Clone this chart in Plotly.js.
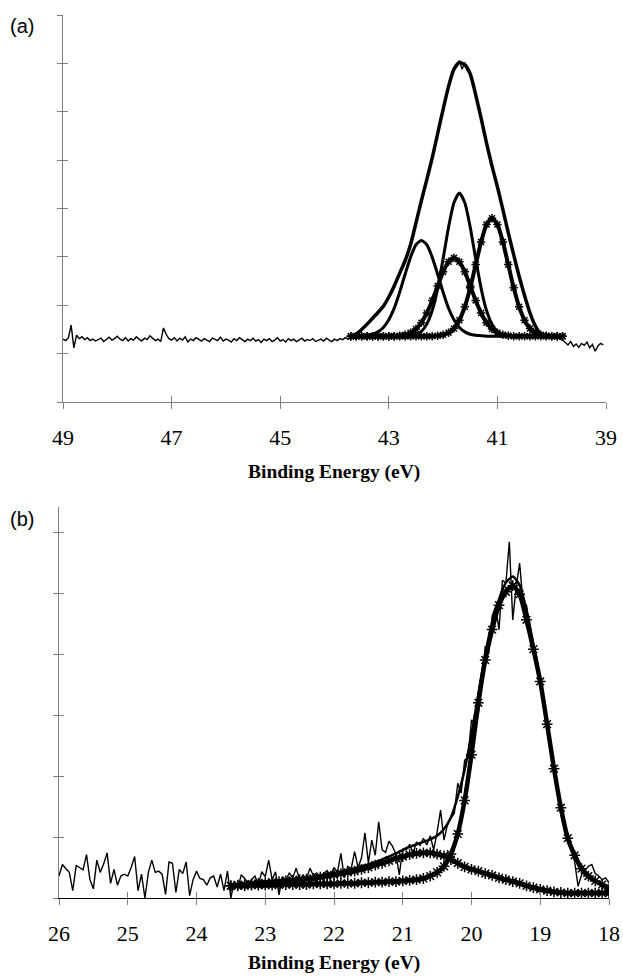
<!DOCTYPE html>
<html>
<head>
<meta charset="utf-8">
<script src="https://cdn.plot.ly/plotly-3.0.1.min.js"></script>
<style>html,body{margin:0;padding:0;background:#fff;}#chart{width:623px;height:979px;}</style>
</head>
<body>
<div id="chart"></div>
<script>
// ---------- Panel (a) ----------
const panelALabel = '(a)';
const xTitle = 'Binding Energy (eV)';
const rawAStart = 49.0, rawAStep = -0.05;
const rawA = [
1.30,1.27,1.33,1.59,1.12,1.38,1.31,1.35,1.29,1.33,
1.27,1.30,1.26,1.29,1.32,1.25,1.29,1.34,1.28,1.31,
1.36,1.30,1.27,1.33,1.26,1.31,1.28,1.35,1.30,1.26,
1.32,1.29,1.37,1.31,1.27,1.30,1.25,1.53,1.40,1.31,
1.28,1.33,1.26,1.32,1.28,1.35,1.24,1.30,1.27,1.33,
1.29,1.26,1.31,1.28,1.25,1.32,1.29,1.27,1.34,1.26,
1.30,1.28,1.24,1.31,1.27,1.33,1.29,1.25,1.30,1.27,
1.32,1.26,1.29,1.23,1.30,1.27,1.31,1.25,1.28,1.33,
1.26,1.29,1.24,1.31,1.27,1.30,1.25,1.28,1.32,1.26,
1.29,1.27,1.31,1.25,1.28,1.30,1.26,1.32,1.28,1.25,
1.30,1.27,1.31,1.29,1.33,1.30,
1.33,1.38,1.42,1.45,1.52,1.56,1.62,1.65,1.74,1.79,
1.86,1.91,1.99,2.05,2.18,2.28,2.41,2.50,2.68,2.78,
2.93,3.08,3.27,3.42,3.72,3.93,4.18,4.37,4.62,4.83,
5.07,5.24,5.57,5.80,6.07,6.25,6.54,6.70,6.90,6.93,
7.06,6.88,7.02,6.84,6.80,6.58,6.37,6.10,5.89,5.60,
5.37,5.08,4.90,4.65,4.47,4.20,4.00,3.72,3.52,3.25,
3.06,2.80,2.62,2.38,2.22,1.99,1.86,1.68,1.58,1.46,
1.41,1.36,1.38,1.33,1.36,1.32,1.35,1.30,1.28,
1.22,1.18,1.25,1.15,1.20,1.13,1.21,1.17,1.24,1.12,1.19,1.05,1.16,1.21,1.18
];
const fitAStart = 43.7, fitAStep = -0.1;
const envelopeA = [1.33,1.40,1.50,1.61,1.73,1.85,1.98,2.17,2.40,2.66,
2.92,3.25,3.70,4.16,4.60,5.05,5.55,6.05,6.52,6.88,
7.02,6.97,6.78,6.35,5.87,5.35,4.88,4.45,3.98,3.50,
3.04,2.60,2.20,1.84,1.57,1.40,1.36,1.36,1.36,1.36];
const peakA1 = [1.36,1.36,1.37,1.38,1.40,1.45,1.54,1.70,1.94,2.27,
2.64,2.99,3.25,3.34,3.25,2.99,2.64,2.27,1.94,1.70,
1.54,1.45,1.40,1.38,1.37,1.36,1.36,1.36,1.36,1.36,
1.36,1.36,1.36,1.36,1.36,1.36,1.36,1.36,1.36,1.36];
const peakA2 = [1.36,1.36,1.36,1.36,1.36,1.36,1.36,1.36,1.36,1.36,
1.36,1.37,1.40,1.46,1.61,1.89,2.35,2.96,3.61,4.12,
4.32,4.12,3.61,2.96,2.35,1.89,1.61,1.46,1.40,1.37,
1.36,1.36,1.36,1.36,1.36,1.36,1.36,1.36,1.36,1.36];
const peakA3 = [1.36,1.36,1.36,1.36,1.36,1.36,1.36,1.36,1.36,1.37,
1.39,1.43,1.51,1.64,1.84,2.10,2.40,2.69,2.90,2.98,
2.90,2.69,2.40,2.10,1.84,1.64,1.51,1.43,1.39,1.37,
1.36,1.36,1.36,1.36,1.36,1.36,1.36,1.36,1.36,1.36];
const peakA4 = [1.36,1.36,1.36,1.36,1.36,1.36,1.36,1.36,1.36,1.36,
1.36,1.36,1.36,1.36,1.36,1.36,1.37,1.39,1.43,1.52,
1.69,1.97,2.36,2.84,3.31,3.67,3.80,3.67,3.31,2.84,
2.36,1.97,1.69,1.52,1.43,1.39,1.37,1.36,1.36,1.36];
const xTicksA = [49,47,45,43,41,39];

// ---------- Panel (b) ----------
const panelBLabel = '(b)';
const rawBStart = 26.0, rawBStep = -0.05;
const rawB = [
0.36,0.55,0.48,0.42,0.12,0.53,0.50,0.46,0.71,0.30,
0.15,0.62,0.42,0.56,0.74,0.24,0.47,0.21,0.36,0.39,
0.36,0.50,0.68,0.12,0.39,0.00,0.42,0.62,0.42,0.44,
0.39,0.06,0.59,0.57,0.09,0.47,0.40,0.59,0.04,0.30,
0.44,0.32,0.30,0.21,0.33,0.36,0.18,0.39,0.12,0.44,
0.00,
0.28,0.15,0.38,0.32,0.24,0.30,0.36,0.22,0.43,0.35,
0.62,0.30,0.43,0.05,0.35,0.30,0.41,0.33,0.49,0.30,
0.38,0.31,0.49,0.37,0.41,0.33,0.40,0.45,0.36,0.50,
0.42,0.73,0.33,0.52,0.48,0.76,0.50,0.66,1.07,0.58,
0.95,0.70,1.25,0.79,0.75,0.93,0.85,0.72,0.38,0.80,
0.79,0.88,0.73,0.92,0.86,0.98,0.87,1.02,0.79,1.08,
1.44,0.95,1.20,1.30,1.39,1.88,1.72,2.26,2.30,2.92,
2.85,3.03,3.50,4.13,4.00,4.62,4.78,4.40,5.21,5.16,
5.84,4.56,5.10,5.49,4.83,4.80,4.40,4.16,3.95,3.60,
3.23,2.80,2.45,2.13,1.70,1.37,1.15,0.93,0.78,0.60,
0.19,0.38,0.45,0.52,0.55,0.40,0.36,0.30,0.33,0.25
];
const fitBStart = 23.5, fitBStep = -0.1;
const envelopeB = [0.22,0.23,0.24,0.25,0.26,0.27,0.28,0.29,0.30,0.31,
0.32,0.34,0.35,0.37,0.39,0.41,0.43,0.46,0.49,0.52,
0.55,0.59,0.63,0.68,0.73,0.79,0.84,0.88,0.92,0.96,
1.02,1.13,1.32,1.66,2.10,2.68,3.35,4.00,4.52,4.90,
5.17,5.27,5.13,4.72,4.16,3.55,2.85,2.10,1.45,1.00,
0.72,0.52,0.38,0.28,0.22,0.18];
const mainPeakB = [0.20,0.20,0.20,0.21,0.21,0.21,0.21,0.22,0.22,0.22,
0.22,0.22,0.23,0.23,0.23,0.23,0.24,0.24,0.24,0.25,
0.25,0.26,0.26,0.27,0.27,0.28,0.29,0.30,0.32,0.36,
0.42,0.52,0.72,1.05,1.60,2.35,3.20,3.90,4.40,4.80,
5.02,5.12,4.98,4.56,4.08,3.55,2.85,2.12,1.48,0.98,
0.70,0.48,0.36,0.28,0.22,0.15];
const broadPeakB = [0.20,0.21,0.22,0.23,0.24,0.25,0.26,0.27,0.28,0.29,
0.30,0.31,0.32,0.34,0.36,0.38,0.40,0.42,0.44,0.47,
0.50,0.54,0.57,0.61,0.65,0.68,0.71,0.73,0.74,0.74,
0.72,0.69,0.63,0.57,0.51,0.47,0.44,0.40,0.37,0.33,
0.30,0.27,0.24,0.20,0.17,0.14,0.12,0.10,0.09,0.08,
0.08,0.08,0.08,0.08,0.08,0.08];
const xTicksB = [26,25,24,23,22,21,20,19,18];

// ---------- styles ----------
const INK = '#000000';
const GRAY = '#808080';
const serif = 'Liberation Serif';
const sans = 'Liberation Sans';
const tickFont = {family:serif, size:22, color:INK};

function solid(x0, dx, y, w, xa, ya) {
  return {type:'scatter', mode:'lines', x0:x0, dx:dx, y:y, xaxis:xa, yaxis:ya,
    line:{color:INK, width:w, shape:'spline', smoothing:0.6}, hoverinfo:'skip'};
}
function starred(x0, dx, y, xa, ya, sz, lw) {
  return {type:'scatter', mode:'lines+markers', x0:x0, dx:dx, y:y, xaxis:xa, yaxis:ya,
    line:{color:INK, width:lw, shape:'spline', smoothing:0.6},
    marker:{symbol:'asterisk-open', size:sz, color:INK, line:{color:INK, width:1.5}}, hoverinfo:'skip'};
}
function raw(x0, dx, y, xa, ya) {
  return {type:'scatter', mode:'lines', x0:x0, dx:dx, y:y, xaxis:xa, yaxis:ya,
    line:{color:INK, width:1.4}, hoverinfo:'skip'};
}

const traces = [
  starred(fitAStart, fitAStep, peakA3, 'x', 'y', 7, 4),
  starred(fitAStart, fitAStep, peakA4, 'x', 'y', 7, 4),
  solid(fitAStart, fitAStep, peakA1, 3, 'x', 'y'),
  solid(fitAStart, fitAStep, peakA2, 3, 'x', 'y'),
  solid(fitAStart, fitAStep, envelopeA, 3.5, 'x', 'y'),
  raw(rawAStart, rawAStep, rawA, 'x3', 'y3'),
  starred(fitBStart, fitBStep, broadPeakB, 'x2', 'y2', 9, 4.5),
  starred(fitBStart, fitBStep, mainPeakB, 'x2', 'y2', 9, 4.5),
  solid(fitBStart, fitBStep, envelopeB, 2.5, 'x2', 'y2'),
  raw(rawBStart, rawBStep, rawB, 'x4', 'y4')
];

const W = 623, H = 979;
const domAx = [63/W, 606/W], domAy = [1-402/H, 1-15/H];
const domBx = [59/W, 609/W], domBy = [1-898/H, 1-507/H];

function xBase(dom, range, ticks, anchor, lineColor) {
  return {domain:dom, range:range, anchor:anchor, tickmode:'array', tickvals:ticks,
    ticktext:ticks.map(String), ticks:'outside', ticklen:6, tickwidth:1, tickcolor:GRAY,
    showline:true, linecolor:lineColor, linewidth:1, zeroline:false, showgrid:false,
    tickfont:tickFont, ticklabelstandoff:10, fixedrange:true};
}
function xOver(over, range, ticks, anchor) {
  return {overlaying:over, range:range, anchor:anchor, tickmode:'array', tickvals:ticks,
    ticks:'inside', ticklen:6, tickwidth:1, tickcolor:GRAY, showticklabels:false,
    tickfont:tickFont, showline:false, zeroline:false, showgrid:false, fixedrange:true};
}
function yBase(dom, range, anchor) {
  return {domain:dom, range:range, anchor:anchor, tickmode:'linear', tick0:0, dtick:1,
    ticks:'outside', ticklen:5, tickwidth:1, tickcolor:GRAY, showticklabels:false,
    showline:true, linecolor:GRAY, linewidth:1, zeroline:false, showgrid:false, fixedrange:true};
}
function yOver(over, range, anchor) {
  return {overlaying:over, range:range, anchor:anchor, tickmode:'linear', tick0:0, dtick:1,
    ticks:'inside', ticklen:5, tickwidth:1, tickcolor:GRAY, showticklabels:false,
    showline:false, zeroline:false, showgrid:false, fixedrange:true};
}

const layout = {
  width:W, height:H, margin:{l:0, r:0, t:0, b:0}, showlegend:false,
  font:{family:serif, size:22, color:INK},
  paper_bgcolor:'#ffffff', plot_bgcolor:'rgba(0,0,0,0)',
  xaxis: xBase(domAx, [49, 39], xTicksA, 'y', GRAY),
  yaxis: yBase(domAy, [0, 8], 'x'),
  xaxis3: xOver('x', [49, 39], xTicksA, 'y'),
  yaxis3: yOver('y', [0, 8], 'x'),
  xaxis2: xBase(domBx, [26, 18], xTicksB, 'y2', INK),
  yaxis2: yBase(domBy, [0, 6.41], 'x2'),
  xaxis4: xOver('x2', [26, 18], xTicksB, 'y2'),
  yaxis4: yOver('y2', [0, 6.41], 'x2'),
  annotations: [
    {text:panelALabel, xref:'paper', yref:'paper', x:8/W, y:1-26/H, xanchor:'left', yanchor:'middle',
      showarrow:false, font:{family:sans, size:20, color:INK}},
    {text:panelBLabel, xref:'paper', yref:'paper', x:8/W, y:1-519/H, xanchor:'left', yanchor:'middle',
      showarrow:false, font:{family:sans, size:20, color:INK}},
    {text:'<b>'+xTitle+'</b>', xref:'paper', yref:'paper', x:334/W, y:1-472/H, xanchor:'center', yanchor:'middle',
      showarrow:false, font:{family:serif, size:19.5, color:INK}},
    {text:'<b>'+xTitle+'</b>', xref:'paper', yref:'paper', x:334/W, y:1-963/H, xanchor:'center', yanchor:'middle',
      showarrow:false, font:{family:serif, size:19.5, color:INK}}
  ]
};

Plotly.newPlot('chart', traces, layout, {staticPlot:true, displayModeBar:false});
</script>
</body>
</html>
